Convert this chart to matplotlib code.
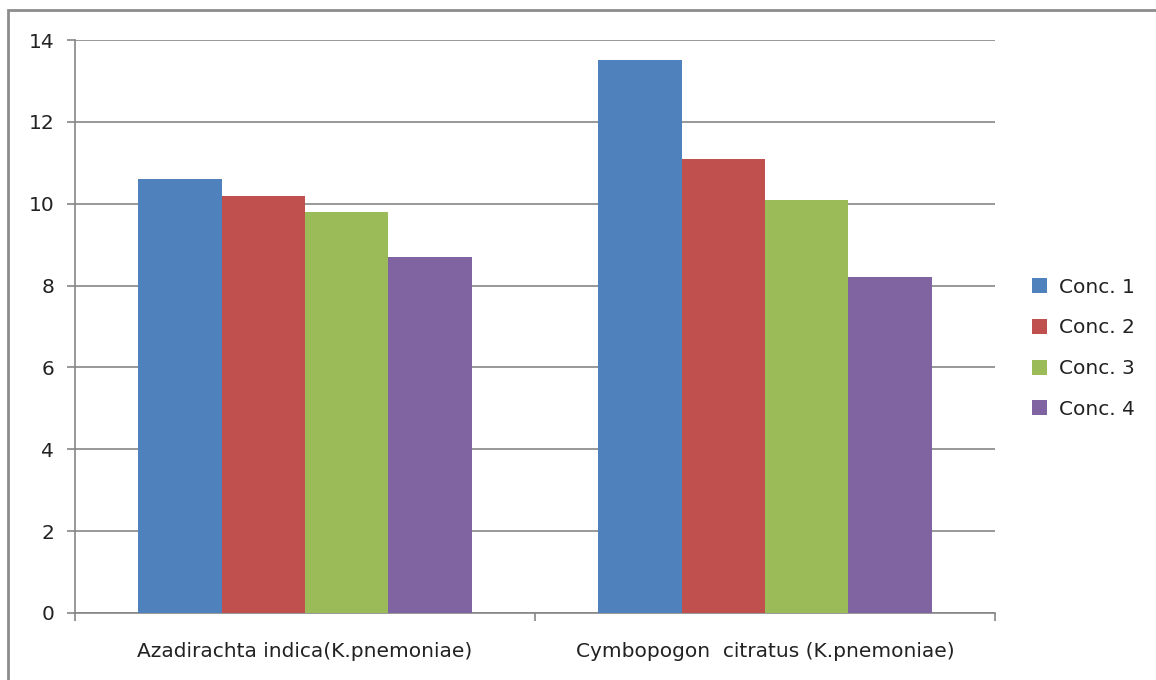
import matplotlib
matplotlib.use("Agg")
import matplotlib.pyplot as plt
import numpy as np
from matplotlib.patches import Rectangle

categories = ["Azadirachta indica(K.pnemoniae)", "Cymbopogon  citratus (K.pnemoniae)"]
series = ["Conc. 1", "Conc. 2", "Conc. 3", "Conc. 4"]
conc1 = [10.6, 13.5]
conc2 = [10.2, 11.1]
conc3 = [9.8, 10.1]
conc4 = [8.7, 8.2]
colors = ["#4F81BD", "#C0504D", "#9BBB59", "#8064A2"]

plt.rcParams['font.family'] = ['DejaVu Sans']
fs = 14.5

fig = plt.figure(figsize=(11.56, 6.8), dpi=100)
ax = fig.add_axes([75/1156, 1-613/680, 920/1156, 573/680])

# outer frame of the chart area (only top and left visible in the reference)
fig.patches.append(Rectangle((8/1156, -0.1), 1.2, 1.1 - 10/680, transform=fig.transFigure,
                             fill=False, edgecolor="#8c8c8c", linewidth=2))

x = np.arange(len(categories))
w = 0.1815
for i, (vals, name) in enumerate(zip([conc1, conc2, conc3, conc4], series)):
    ax.bar(x + (i - 1.5) * w, vals, w, color=colors[i], label=name, zorder=3)

ax.set_xlim(-0.5, 1.5)
ax.set_ylim(0, 14)
ax.set_yticks(np.arange(0, 15, 2))
ax.yaxis.grid(True, color="#868686", linewidth=1.2, zorder=0)
for s in ["top", "right"]:
    ax.spines[s].set_visible(False)
ax.spines["left"].set_color("#868686")
ax.spines["bottom"].set_color("#868686")
ax.spines["left"].set_linewidth(1.2)
ax.spines["bottom"].set_linewidth(1.2)

ax.set_xticks([-0.5, 0.5, 1.5])
ax.set_xticklabels([])
ax.set_xticks(x, minor=True)
ax.set_xticklabels(categories, minor=True, fontsize=fs, color="#222222")
ax.tick_params(axis="x", which="minor", length=0, pad=21)
ax.tick_params(axis="x", which="major", length=6, color="#868686", width=1.2)
ax.tick_params(axis="y", length=6, color="#868686", width=1.2, labelsize=fs,
               labelcolor="#222222", pad=9)

ax.legend(loc="center left", bbox_to_anchor=(1.02, 0.462), frameon=False, fontsize=fs,
          handlelength=0.75, handleheight=0.75, labelspacing=1.08, handletextpad=0.6,
          labelcolor="#222222")

fig.savefig("out.png", dpi=100, facecolor="white")
